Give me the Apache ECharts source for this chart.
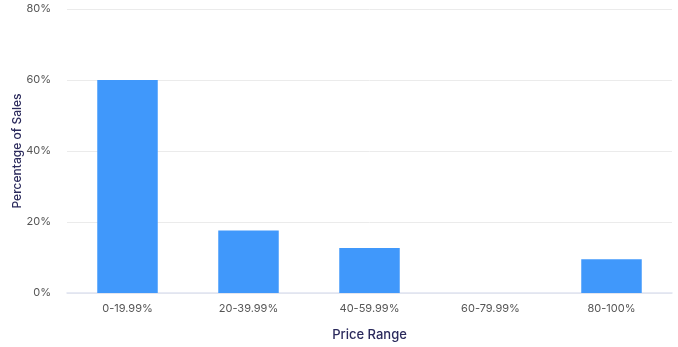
<!DOCTYPE html>
<html>
<head>
<meta charset="utf-8">
<script src="https://cdn.jsdelivr.net/npm/echarts@6/dist/echarts.min.js"></script>
<style>
  html, body { margin: 0; padding: 0; background: #ffffff; }
  #chart { width: 678px; height: 347px; }
</style>
</head>
<body>
<div id="chart"></div>
<script>
// Share of sales by price range
const priceRanges = ['0-19.99%', '20-39.99%', '40-59.99%', '60-79.99%', '80-100%'];
const salesShare = [60, 17.6, 12.7, 0, 9.5];
const yTicks = [0, 20, 40, 60, 80];

const chart = echarts.init(document.getElementById('chart'));
const fontFamily = 'Inter, "Noto Sans", sans-serif';

chart.setOption({
  animation: false,
  textStyle: { fontFamily: fontFamily },
  grid: { left: 67, right: 6, top: 9, bottom: 54, containLabel: false, outerBoundsMode: 'none' },
  xAxis: {
    type: 'category',
    data: priceRanges,
    name: 'Price Range',
    nameLocation: 'middle',
    nameGap: 36,
    nameMoveOverlap: false,
    nameTextStyle: { color: '#2b2a5c', fontSize: 13, fontWeight: 500, fontFamily: fontFamily },
    axisLine: { show: true, lineStyle: { color: '#dfe4f1', width: 1.5 } },
    axisTick: { show: false },
    axisLabel: { color: '#555555', fontSize: 11, margin: 10, fontFamily: fontFamily }
  },
  yAxis: {
    type: 'value',
    min: yTicks[0],
    max: yTicks[yTicks.length - 1],
    interval: 20,
    name: 'Percentage of Sales',
    nameLocation: 'middle',
    nameGap: 44,
    nameMoveOverlap: false,
    nameTextStyle: { color: '#2b2a5c', fontSize: 12, fontWeight: 500, fontFamily: fontFamily },
    axisLine: { show: false },
    axisTick: { show: false },
    axisLabel: { color: '#555555', fontSize: 11, margin: 16, formatter: '{value}%', fontFamily: fontFamily },
    splitLine: { lineStyle: { color: '#ebebeb', width: 1 } }
  },
  series: [{
    type: 'bar',
    data: salesShare,
    barWidth: '50%',
    itemStyle: { color: '#4098fb' }
  }]
});
</script>
</body>
</html>
